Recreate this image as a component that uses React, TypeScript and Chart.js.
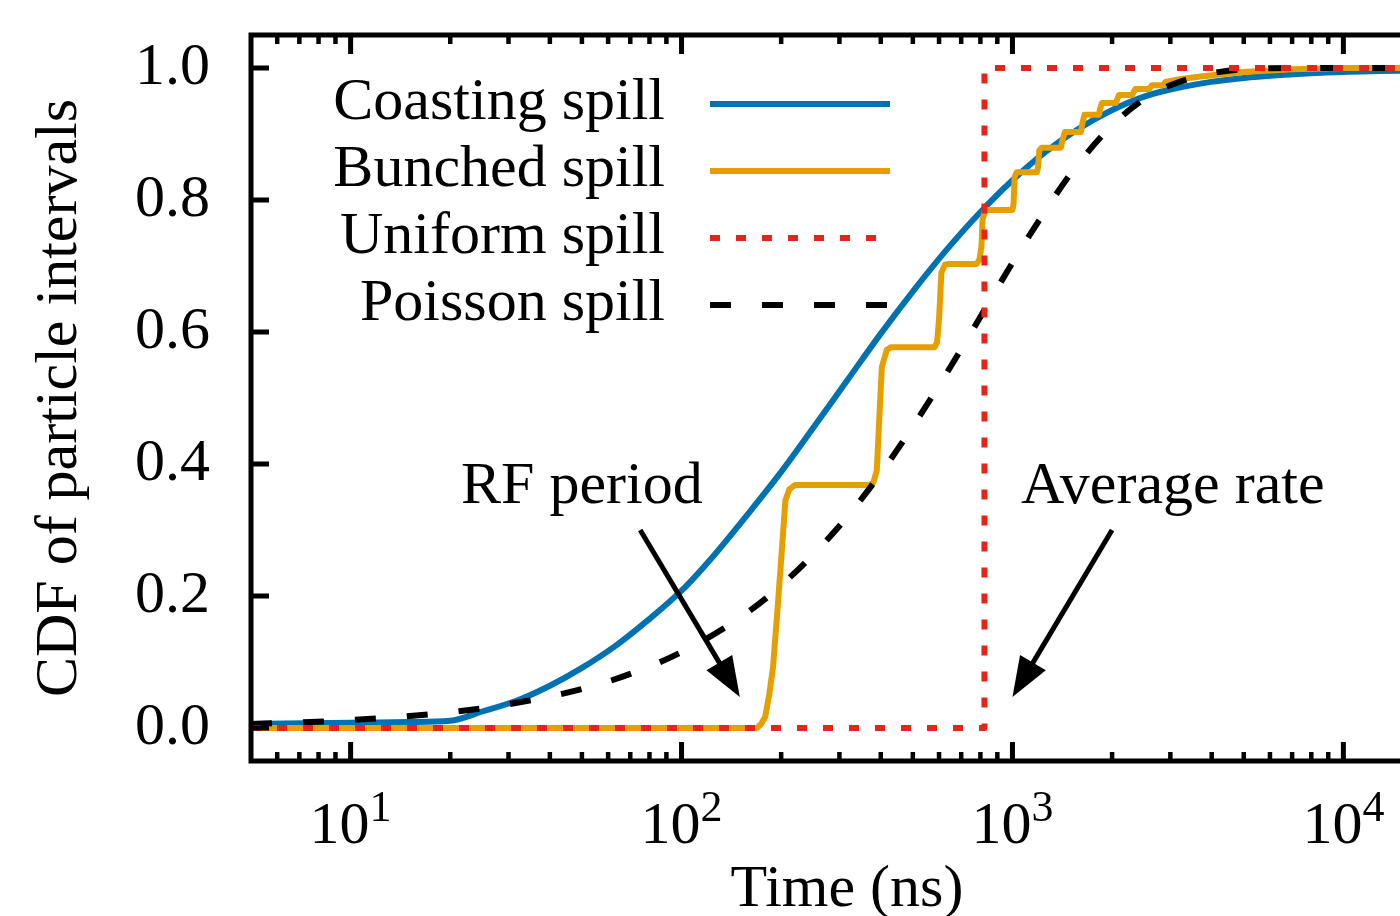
import React, { useEffect, useRef } from "react";
import { Chart, registerables } from "chart.js";

Chart.register(...registerables);

const FONT = '"Liberation Serif", "Times New Roman", Times, serif';

// ---- axis ranges & ticks ----
const X_MIN = 5;
const X_MAX = 20000;
const Y_MIN = -0.05;
const Y_MAX = 1.05;
const Y_TICKS = [0, 0.2, 0.4, 0.6, 0.8, 1.0];
const X_MAJOR_TICKS = [10, 100, 1000, 10000];
const X_TICK_EXPONENTS = ["1", "2", "3", "4"];
const X_MINOR_TICKS = [
  6, 7, 8, 9,
  20, 30, 40, 50, 60, 70, 80, 90,
  200, 300, 400, 500, 600, 700, 800, 900,
  2000, 3000, 4000, 5000, 6000, 7000, 8000, 9000,
];

// ---- series (time in ns, CDF) ----
const SERIES_LABELS = ["Coasting spill", "Bunched spill", "Uniform spill", "Poisson spill"];

const COASTING: [number, number][] = [
  [5, 0.006], [10, 0.008], [15, 0.009], [20, 0.011], [25, 0.025], [32, 0.042],
  [40, 0.064], [50, 0.091], [63, 0.124], [79, 0.163], [100, 0.208], [126, 0.263],
  [158, 0.323], [200, 0.388], [251, 0.456], [316, 0.526], [398, 0.596], [501, 0.662],
  [631, 0.724], [794, 0.78], [1000, 0.83], [1259, 0.873], [1585, 0.908], [1995, 0.936],
  [2512, 0.957], [3162, 0.97], [3981, 0.979], [5012, 0.985], [6310, 0.989], [7943, 0.992],
  [10000, 0.994], [20000, 0.997],
];

const BUNCHED: [number, number][] = [
  [5, 0], [169, 0], [174, 0.006], [179, 0.017], [184, 0.05], [189, 0.092], [195, 0.18],
  [201, 0.27], [206, 0.345], [212, 0.362], [220, 0.368],
  [370, 0.368], [380, 0.372], [389, 0.39], [396, 0.47], [403, 0.547], [417, 0.573], [430, 0.577],
  [582, 0.577], [592, 0.585], [600, 0.62], [610, 0.69], [625, 0.702], [640, 0.703],
  [779, 0.703], [795, 0.71], [806, 0.73], [812, 0.77], [825, 0.783], [840, 0.785],
  [1000, 0.785], [1008, 0.795], [1015, 0.835], [1030, 0.842],
  [1185, 0.842], [1195, 0.85], [1205, 0.875], [1225, 0.879],
  [1400, 0.879], [1415, 0.89], [1440, 0.903],
  [1610, 0.903], [1625, 0.915], [1650, 0.929],
  [1825, 0.929], [1840, 0.938], [1865, 0.947],
  [2055, 0.947], [2075, 0.953], [2100, 0.959],
  [2300, 0.959], [2320, 0.963], [2350, 0.968],
  [2590, 0.968], [2610, 0.971], [2640, 0.974],
  [2850, 0.974], [2900, 0.979], [3200, 0.983], [3700, 0.987],
  [5000, 0.994], [7000, 0.998], [10000, 1.0], [20000, 1.0],
];

const UNIFORM: [number, number][] = [
  [5, 0], [823, 0], [823, 1], [20000, 1],
];

const POISSON: [number, number][] = [
  [5, 0.006], [10, 0.012], [20, 0.024], [30, 0.036], [50, 0.059], [70, 0.082],
  [100, 0.115], [150, 0.167], [200, 0.216], [300, 0.306], [400, 0.386], [500, 0.457],
  [600, 0.519], [700, 0.574], [820, 0.632], [1000, 0.705], [1200, 0.768], [1500, 0.84],
  [2000, 0.913], [2500, 0.953], [3000, 0.974], [4000, 0.992], [5000, 0.998],
  [7000, 1.0], [10000, 1.0], [20000, 1.0],
];

// ---- annotations (data coordinates) ----
const ANNOTATION_TEXTS: [string, number, number][] = [
  ["RF period", 50, 0.341],
  ["Average rate", 3050, 0.341],
];
const ANNOTATION_ARROWS: [number, number, number, number][] = [
  [75, 0.3, 150, 0.047],
  [2000, 0.3, 1000, 0.047],
];

const COLORS = ["#0072B2", "#E69F00", "#E8231A", "#000000"];
const DASHES: number[][] = [[], [], [10, 16], [21, 31]];
const LINE_WIDTH = 6;

function drawArrow(ctx: CanvasRenderingContext2D, x1: number, y1: number, x2: number, y2: number) {
  const ang = Math.atan2(y2 - y1, x2 - x1);
  const c = Math.cos(ang);
  const s = Math.sin(ang);
  const headLen = 40;
  const headHalf = 15;
  const bx = x2 - headLen * c;
  const by = y2 - headLen * s;
  ctx.lineWidth = 5;
  ctx.lineCap = "butt";
  ctx.setLineDash([]);
  ctx.beginPath();
  ctx.moveTo(x1, y1);
  ctx.lineTo(bx + 2 * c, by + 2 * s);
  ctx.stroke();
  ctx.beginPath();
  ctx.moveTo(x2, y2);
  ctx.lineTo(bx + headHalf * s, by - headHalf * c);
  ctx.lineTo(bx - headHalf * s, by + headHalf * c);
  ctx.closePath();
  ctx.fill();
}

const framePlugin = {
  id: "frameAndDecor",
  afterDraw(chart: any) {
    const { ctx, chartArea: a, scales } = chart;
    const xs = scales.x;
    const ys = scales.y;
    ctx.save();
    ctx.strokeStyle = "#000";
    ctx.fillStyle = "#000";
    ctx.setLineDash([]);
    ctx.lineCap = "butt";

    // frame
    ctx.lineWidth = 5;
    ctx.strokeRect(a.left, a.top, a.right - a.left, a.bottom - a.top);

    // x ticks (bottom & top, inward)
    const xTick = (v: number, len: number, w: number) => {
      const px = xs.getPixelForValue(v);
      ctx.lineWidth = w;
      ctx.beginPath();
      ctx.moveTo(px, a.bottom);
      ctx.lineTo(px, a.bottom - len);
      ctx.moveTo(px, a.top);
      ctx.lineTo(px, a.top + len);
      ctx.stroke();
    };
    X_MAJOR_TICKS.forEach((v) => xTick(v, 19, 5));
    X_MINOR_TICKS.forEach((v) => xTick(v, 9, 4.5));

    // y ticks (left & right, inward)
    Y_TICKS.forEach((v) => {
      const py = ys.getPixelForValue(v);
      ctx.lineWidth = 5;
      ctx.beginPath();
      ctx.moveTo(a.left, py);
      ctx.lineTo(a.left + 18, py);
      ctx.moveTo(a.right, py);
      ctx.lineTo(a.right - 18, py);
      ctx.stroke();
    });

    // x tick labels: 10^n
    ctx.textBaseline = "alphabetic";
    ctx.textAlign = "left";
    X_MAJOR_TICKS.forEach((v, i) => {
      const px = xs.getPixelForValue(v);
      const exp = X_TICK_EXPONENTS[i];
      ctx.font = `60px ${FONT}`;
      const w1 = ctx.measureText("10").width;
      ctx.font = `44px ${FONT}`;
      const w2 = ctx.measureText(exp).width;
      const start = px - (w1 + w2) / 2;
      ctx.font = `60px ${FONT}`;
      ctx.fillText("10", start, a.bottom + 82);
      ctx.font = `44px ${FONT}`;
      ctx.fillText(exp, start + w1, a.bottom + 60);
    });

    // annotations
    ANNOTATION_ARROWS.forEach(([x1, y1, x2, y2]) => {
      drawArrow(
        ctx,
        xs.getPixelForValue(x1),
        ys.getPixelForValue(y1),
        xs.getPixelForValue(x2),
        ys.getPixelForValue(y2)
      );
    });
    ctx.font = `60px ${FONT}`;
    ctx.textAlign = "center";
    ctx.textBaseline = "alphabetic";
    ANNOTATION_TEXTS.forEach(([t, x, y]) => {
      ctx.fillText(t, xs.getPixelForValue(x), ys.getPixelForValue(y));
    });

    // legend
    chart.data.datasets.forEach((ds: any, i: number) => {
      const rowY = a.top + 69 + i * 67;
      ctx.font = `60px ${FONT}`;
      ctx.textAlign = "right";
      ctx.fillStyle = "#000";
      ctx.fillText(ds.label, a.left + 414, rowY + 15);
      ctx.strokeStyle = ds.borderColor;
      ctx.lineWidth = ds.borderWidth;
      ctx.setLineDash(ds.borderDash || []);
      ctx.beginPath();
      ctx.moveTo(a.left + 459, rowY);
      ctx.lineTo(a.left + 639, rowY);
      ctx.stroke();
    });
    ctx.restore();
  },
};

export default function App() {
  const ref = useRef<HTMLCanvasElement | null>(null);

  useEffect(() => {
    if (!ref.current) return;
    Chart.defaults.color = "#000";
    const seriesData = [COASTING, BUNCHED, UNIFORM, POISSON];
    const drawOrder = [4, 3, 1, 2];
    const chart = new Chart(ref.current, {
      type: "line",
      data: {
        datasets: seriesData.map((pts, i) => ({
          label: SERIES_LABELS[i],
          data: pts.map(([x, y]) => ({ x, y })),
          borderColor: COLORS[i],
          backgroundColor: COLORS[i],
          borderWidth: LINE_WIDTH,
          borderDash: DASHES[i],
          borderCapStyle: "butt",
          borderJoinStyle: "round",
          pointRadius: 0,
          fill: false,
          cubicInterpolationMode: i === 0 || i === 3 ? "monotone" : "default",
          tension: 0,
          order: drawOrder[i],
        })),
      },
      options: {
        animation: false,
        responsive: false,
        maintainAspectRatio: false,
        devicePixelRatio: 1,
        layout: { padding: { left: 0, top: 35, right: 7, bottom: 0 } },
        plugins: {
          legend: { display: false },
          tooltip: { enabled: false },
        },
        scales: {
          x: {
            type: "logarithmic",
            min: X_MIN,
            max: X_MAX,
            grid: { display: false, drawTicks: false },
            border: { display: false },
            ticks: { display: false },
            title: {
              display: true,
              text: "Time (ns)",
              color: "#000",
              font: { family: FONT, size: 60, lineHeight: 0.8 },
              padding: { top: 0, bottom: 2 },
            },
            afterFit: (scale: any) => {
              scale.height = 155;
              scale.paddingLeft = 0;
              scale.paddingRight = 0;
              scale.paddingTop = 0;
              scale.paddingBottom = 0;
            },
          },
          y: {
            type: "linear",
            min: Y_MIN,
            max: Y_MAX,
            grid: { display: false, drawTicks: false },
            border: { display: false },
            afterBuildTicks: (scale: any) => {
              scale.ticks = Y_TICKS.map((v) => ({ value: v }));
            },
            ticks: {
              color: "#000",
              padding: 41,
              font: { family: FONT, size: 60 },
              callback: (v: any) => Number(v).toFixed(1),
            },
            title: {
              display: true,
              text: "CDF of particle intervals",
              color: "#000",
              font: { family: FONT, size: 60, lineHeight: 0.8 },
              padding: { top: 36, bottom: 0 },
            },
            afterFit: (scale: any) => {
              scale.width = 251;
              scale.paddingTop = 0;
              scale.paddingBottom = 0;
              scale.paddingLeft = 0;
              scale.paddingRight = 0;
            },
          },
        },
      },
      plugins: [framePlugin],
    } as any);
    return () => chart.destroy();
  }, []);

  return (
    <div
      style={{
        position: "fixed",
        left: 0,
        top: 0,
        width: 1400,
        height: 916,
        overflow: "hidden",
        background: "#fff",
      }}
    >
      <canvas
        ref={ref}
        width={1450}
        height={916}
        style={{ display: "block", width: 1450, height: 916 }}
      />
    </div>
  );
}
